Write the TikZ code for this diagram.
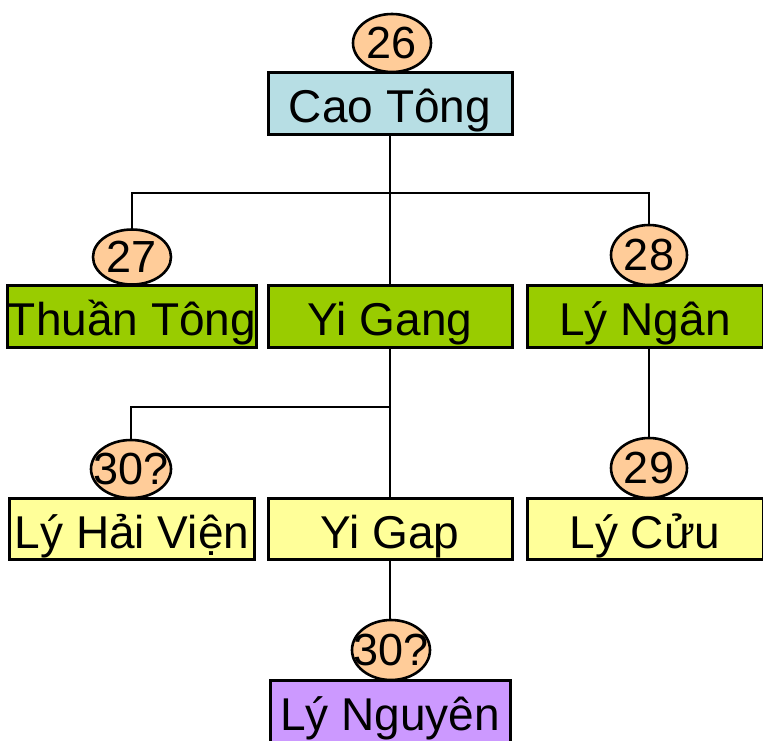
\documentclass[tikz,border=0pt]{standalone}
\usepackage{fontspec}
\setmainfont{Liberation Sans}
\usetikzlibrary{shapes.geometric}
\definecolor{cblue}{RGB}{183,222,228}
\definecolor{cgreen}{RGB}{153,204,0}
\definecolor{cyellow}{RGB}{255,255,153}
\definecolor{cpurple}{RGB}{204,153,255}
\definecolor{corange}{RGB}{255,204,153}
\begin{document}
\begin{tikzpicture}[x=1pt,y=-1pt,
  box/.style={draw=black,line width=3pt,inner sep=0pt,minimum height=62pt,
    text height=44pt,text depth=6pt,
    font=\fontsize{46}{50}\selectfont},
  gen/.style={ellipse,draw=black,line width=2.6pt,fill=corange,inner sep=0pt,
    font=\fontsize{45}{48}\selectfont},
  link/.style={line width=2.8pt,draw=black}]
\useasboundingbox (0,0) rectangle (763,740);
% ellipses (drawn under boxes)
\node[gen,minimum width=78pt,minimum height=58pt] (e26) at (392,43) {\makebox[0pt]{26}};
\node[gen,minimum width=78pt,minimum height=55pt] (e27) at (132,257) {\makebox[0pt]{27}};
\node[gen,minimum width=76pt,minimum height=60pt] (e28) at (649,255) {\makebox[0pt]{28}};
\node[gen,minimum width=76pt,minimum height=60pt] (e29) at (649,468) {\makebox[0pt]{29}};
\node[gen,minimum width=80pt,minimum height=58pt] (e30a) at (131,469) {\makebox[0pt]{30?}};
\node[gen,minimum width=78pt,minimum height=60pt] (e30b) at (391,650) {\makebox[0pt]{30?}};
% boxes
\node[box,fill=cblue,minimum width=244pt] (cao) at (390,103) {Cao Tông};
\node[box,fill=cgreen,minimum width=245pt] (thuan) at (132,316) {Thuần Tông};
\node[box,fill=cgreen,minimum width=244pt] (yigang) at (390,316) {Yi Gang};
\node[box,fill=cgreen,minimum width=236pt] (ngan) at (645,316) {Lý Ngân};
\node[box,fill=cyellow,minimum width=245pt,minimum height=61pt] (hai) at (132,529) {Lý Hải Viện};
\node[box,fill=cyellow,minimum width=244pt,minimum height=61pt] (yigap) at (390,529) {Yi Gap};
\node[box,fill=cyellow,minimum width=236pt,minimum height=61pt] (cuu) at (645,529) {Lý Cửu};
\node[box,fill=cpurple,minimum width=240pt] (nguyen) at (390,711) {Lý Nguyên};
% connectors
\coordinate (h1l) at (132,193);
\coordinate (h1r) at (649,193);
\coordinate (h2) at (390,407);
\coordinate (h2l) at (131,407);
\draw[link] (cao.south) -- (yigang.north);
\draw[link] (e27.north) -- (h1l) -- (h1r) -- (e28.north);
\draw[link] (ngan.south -| e29.north) -- (e29.north);
\draw[link] (yigang.south) -- (yigap.north);
\draw[link] (h2) -- (h2l) -- (e30a.north);
\draw[link] (yigap.south) -- (yigap.south |- e30b.north);
\end{tikzpicture}
\end{document}
